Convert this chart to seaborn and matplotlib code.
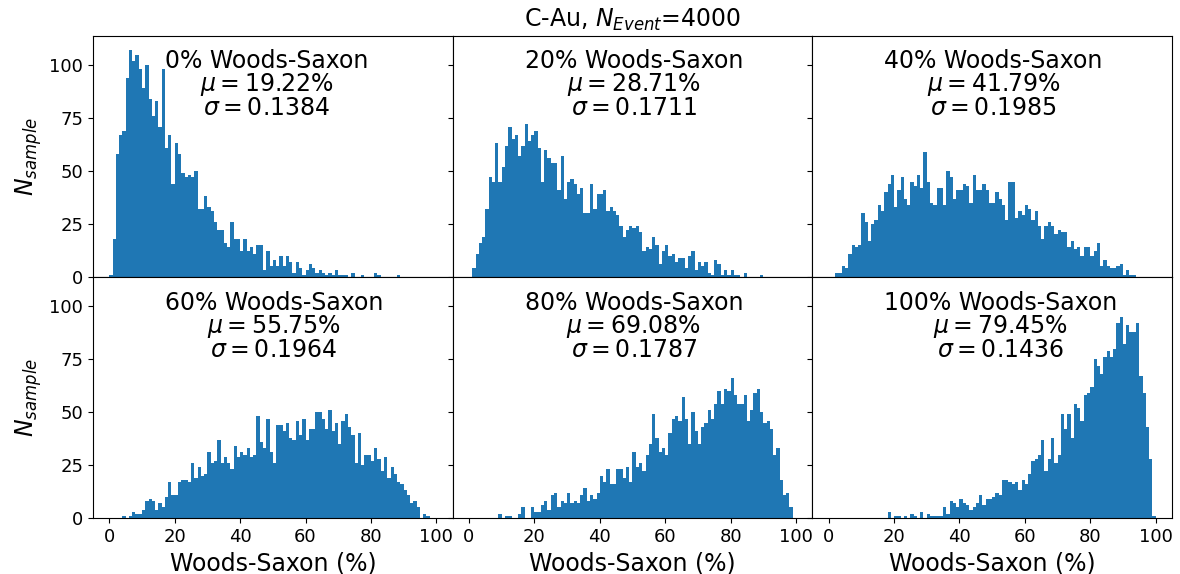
import numpy as np
import pandas as pd
import matplotlib
matplotlib.use("Agg")
import matplotlib.pyplot as plt
import seaborn as sns

fractions = ["0%", "20%", "40%", "60%", "80%", "100%"]
means = ["19.22", "28.71", "41.79", "55.75", "69.08", "79.45"]
sigmas = ["0.1384", "0.1711", "0.1985", "0.1964", "0.1787", "0.1436"]

counts_0 = [1, 18, 58, 67, 69, 94, 107, 102, 105, 98,
            89, 100, 84, 76, 83, 71, 98, 61, 67, 44,
            63, 58, 49, 47, 48, 47, 50, 32, 32, 38,
            33, 31, 26, 22, 22, 16, 14, 26, 18, 18,
            12, 18, 12, 14, 11, 15, 15, 3, 12, 5,
            8, 5, 10, 5, 10, 7, 2, 7, 4, 1,
            3, 6, 4, 2, 3, 2, 1, 2, 1, 3,
            1, 1, 1, 0, 2, 0, 0, 1, 0, 0,
            0, 2, 1, 0, 0, 0, 0, 0, 1, 0,
            0, 0, 0, 0, 0, 0, 0, 0, 0, 0]
counts_20 = [0, 4, 11, 16, 19, 32, 47, 45, 63, 45,
             52, 62, 71, 65, 67, 57, 62, 72, 64, 67,
             69, 61, 45, 60, 56, 54, 54, 41, 57, 37,
             45, 46, 44, 39, 42, 30, 30, 44, 32, 39,
             39, 41, 31, 33, 31, 29, 24, 19, 22, 24,
             23, 24, 21, 12, 14, 13, 19, 15, 6, 12,
             15, 10, 11, 7, 9, 9, 4, 10, 12, 3,
             7, 5, 7, 2, 1, 8, 6, 1, 3, 1,
             3, 1, 1, 0, 2, 0, 0, 0, 0, 1,
             0, 0, 0, 0, 0, 0, 0, 0, 0, 0]
counts_40 = [0, 0, 2, 2, 5, 4, 11, 15, 14, 15,
             30, 26, 17, 25, 27, 34, 31, 40, 44, 48,
             33, 41, 47, 37, 34, 45, 43, 48, 42, 59,
             45, 35, 34, 42, 42, 34, 50, 47, 37, 41,
             41, 44, 43, 35, 48, 41, 41, 44, 41, 35,
             35, 40, 37, 34, 27, 45, 45, 28, 31, 29,
             34, 32, 27, 31, 24, 18, 24, 26, 24, 20,
             22, 21, 21, 14, 17, 13, 14, 10, 14, 14,
             10, 12, 16, 5, 8, 5, 4, 4, 5, 6,
             1, 3, 1, 1, 0, 0, 0, 0, 0, 0]
counts_60 = [0, 0, 0, 0, 1, 0, 1, 3, 2, 2,
             4, 8, 9, 8, 4, 7, 5, 10, 17, 11,
             11, 17, 18, 18, 17, 26, 19, 24, 20, 21,
             31, 26, 27, 37, 26, 29, 26, 23, 34, 29,
             31, 30, 33, 29, 30, 48, 36, 33, 47, 31,
             26, 44, 44, 41, 45, 38, 37, 46, 39, 47,
             37, 42, 42, 50, 50, 47, 42, 51, 41, 45,
             35, 46, 49, 43, 39, 26, 40, 25, 30, 30,
             27, 33, 28, 22, 29, 19, 24, 21, 17, 16,
             13, 11, 7, 8, 5, 0, 2, 1, 0, 0]
counts_80 = [0, 0, 0, 0, 0, 0, 0, 0, 0, 2,
             0, 1, 1, 0, 0, 2, 5, 0, 0, 5,
             3, 3, 6, 8, 4, 11, 12, 5, 8, 7,
             12, 7, 8, 7, 11, 14, 8, 11, 9, 12,
             20, 17, 23, 16, 16, 23, 23, 19, 24, 17,
             31, 24, 26, 22, 30, 35, 49, 38, 31, 33,
             30, 40, 47, 48, 46, 57, 47, 35, 50, 41,
             35, 43, 45, 51, 47, 54, 60, 54, 61, 60,
             66, 58, 54, 54, 58, 46, 51, 59, 61, 50,
             45, 46, 42, 30, 33, 18, 11, 12, 5, 0]
counts_100 = [0, 0, 0, 0, 0, 0, 0, 0, 0, 0,
              0, 0, 0, 0, 0, 0, 0, 0, 3, 0,
              1, 1, 0, 1, 0, 2, 1, 0, 3, 0,
              2, 1, 1, 1, 1, 5, 2, 8, 7, 5,
              9, 7, 6, 4, 5, 7, 11, 6, 9, 9,
              10, 12, 11, 18, 18, 17, 16, 17, 13, 18,
              16, 21, 27, 28, 30, 37, 22, 28, 38, 26,
              30, 49, 42, 49, 38, 54, 52, 46, 58, 59,
              62, 75, 72, 68, 76, 79, 76, 80, 92, 95,
              82, 91, 88, 88, 92, 67, 59, 43, 28, 1]

all_counts = [counts_0, counts_20, counts_40, counts_60, counts_80, counts_100]

xticks = [0, 20, 40, 60, 80, 100]
yticks = [0, 25, 50, 75, 100]

fig, axes = plt.subplots(2, 3, figsize=(11.8, 5.74), dpi=100, sharex=True, sharey=True)
fig.subplots_adjust(left=0.0788, right=0.9932, top=0.938, bottom=0.0976,
                    wspace=0, hspace=0)

n_bins = 100
centers = np.arange(n_bins) + 0.5

for ax, counts, f, m, s in zip(axes.flat, all_counts, fractions, means, sigmas):
    df = pd.DataFrame({"ws": centers, "n": np.asarray(counts, dtype=float)})
    sns.histplot(data=df, x="ws", weights="n", bins=n_bins, binrange=(0, 100),
                 ax=ax, color="#1f77b4", alpha=1, linewidth=0)
    ax.text(0.2, 0.943, f"{f} Woods-Saxon\n$\\mu = {m}\\%$\n$\\sigma = {s}$",
            transform=ax.transAxes, ha="left", va="top", fontsize=17,
            multialignment="center", linespacing=0.9)
    ax.set_xlabel("")
    ax.set_ylabel("")
    ax.set_xticks(xticks)
    ax.set_yticks(yticks)
    ax.tick_params(labelsize=13)

axes[0, 0].set_ylim(0, 114)

for ax in axes[1, :]:
    ax.set_xlabel("Woods-Saxon (%)", fontsize=17)
for ax in axes[:, 0]:
    ax.set_ylabel("$N_{sample}$", fontsize=17)

axes[0, 1].set_title("C-Au, $N_{Event}$=4000", fontsize=17)

fig.savefig("out.png", dpi=100)
